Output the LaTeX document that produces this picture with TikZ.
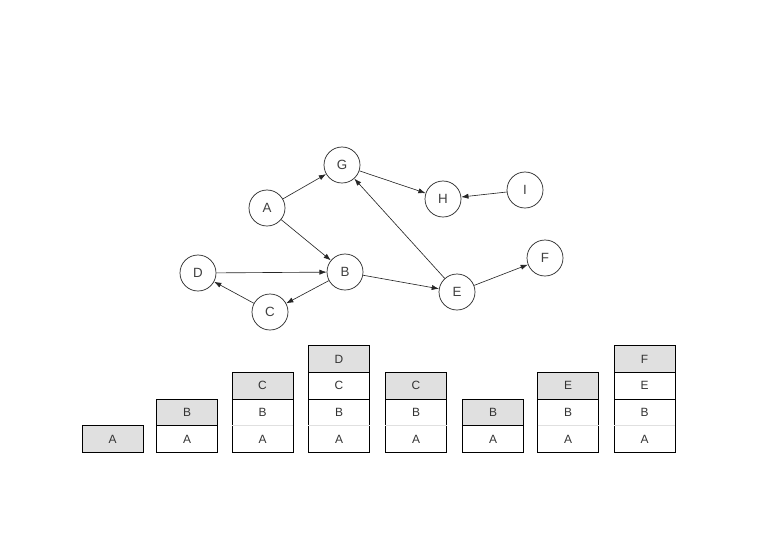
\documentclass[tikz,border=0pt]{standalone}
\usepackage{fontspec}
\setmainfont{Liberation Sans}
\usepackage{tikz}
\usetikzlibrary{positioning,arrows.meta}

\tikzset{
  vertex/.style={draw=black!85, circle, line width=0.5pt, minimum size=0.9cm,
    inner sep=0pt, font=\fontsize{9.5}{10}\selectfont, text=black!75},
  edge/.style={-{Latex[length=1.8mm,width=1.3mm]}, line width=0.45pt, black!85},
  cell/.style={rectangle, inner sep=0pt, outer sep=0pt, minimum width=1.525cm,
    minimum height=0.667cm, font=\fontsize{8.5}{9}\selectfont, text=black!80},
  topcell/.style={cell, fill=black!12},
  frame/.style={black, line width=0.6pt},
  faint/.style={black!12, line width=0.4pt}
}

\begin{document}
\begin{tikzpicture}[x=0.025cm, y=-0.025cm]

\useasboundingbox (0,0) rectangle (780,540);

%% the graph
\path
(267,208) node[vertex] (A) {A}
(342,165) node[vertex] (G) {G}
(443,199) node[vertex] (H) {H}
(525,190) node[vertex] (I) {I}
(198,273) node[vertex] (D) {D}
(345,272) node[vertex] (B) {B}
(270,312) node[vertex] (C) {C}
(457,292) node[vertex] (E) {E}
(545,258) node[vertex] (F) {F};

\draw[edge] (A) -- (G);
\draw[edge] (A) -- (B);
\draw[edge] (G) -- (H);
\draw[edge] (I) -- (H);
\draw[edge] (D) -- (B);
\draw[edge] (B) -- (C);
\draw[edge] (C) -- (D);
\draw[edge] (B) -- (E);
\draw[edge] (E) -- (G);
\draw[edge] (E) -- (F);

%% the stacks, one column per step
\node[topcell] (s1a) at (112.5,439) {A};

\node[cell] (s2a) at (187,439) {A};
\node[topcell, above=0pt of s2a] (s2b) {B};

\node[cell] (s3a) at (262.5,439) {A};
\node[cell, above=0pt of s3a] (s3b) {B};
\node[topcell, above=0pt of s3b] (s3c) {C};

\node[cell] (s4a) at (339,439) {A};
\node[cell, above=0pt of s4a] (s4b) {B};
\node[cell, above=0pt of s4b] (s4c) {C};
\node[topcell, above=0pt of s4c] (s4d) {D};

\node[cell] (s5a) at (416,439) {A};
\node[cell, above=0pt of s5a] (s5b) {B};
\node[topcell, above=0pt of s5b] (s5c) {C};

\node[cell] (s6a) at (493,439) {A};
\node[topcell, above=0pt of s6a] (s6b) {B};

\node[cell] (s7a) at (568,439) {A};
\node[cell, above=0pt of s7a] (s7b) {B};
\node[topcell, above=0pt of s7b] (s7e) {E};

\node[cell] (s8a) at (644.5,439) {A};
\node[cell, above=0pt of s8a] (s8b) {B};
\node[cell, above=0pt of s8b] (s8e) {E};
\node[topcell, above=0pt of s8e] (s8f) {F};

% frames
\foreach \bot/\top in {s1a/s1a, s2a/s2b, s3a/s3c, s4a/s4d, s5a/s5c, s6a/s6b, s7a/s7e, s8a/s8f}
  \draw[frame] (\bot.south west) rectangle (\top.north east);

% faint line between A and B
\foreach \c in {s3b, s4b, s5b, s7b, s8b}
  \draw[faint] (\c.south west) -- (\c.south east);

% dividing lines
\foreach \c in {s2b, s3c, s4c, s4d, s5c, s6b, s7e, s8e, s8f}
  \draw[frame] (\c.south west) -- (\c.south east);

\end{tikzpicture}
\end{document}
